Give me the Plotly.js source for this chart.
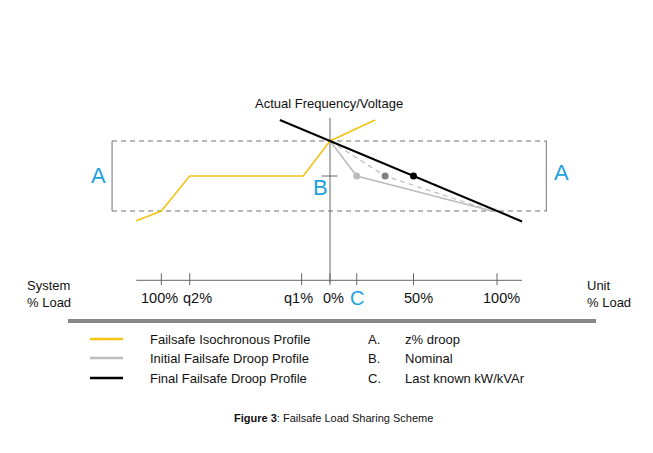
<!DOCTYPE html>
<html>
<head>
<meta charset="utf-8">
<script src="https://cdn.plot.ly/plotly-3.0.1.min.js"></script>
<style>html,body{margin:0;padding:0;background:#fff;}#chart{width:653px;height:453px;}</style>
</head>
<body>
<div id="chart"></div>
<script>
// ---- Data (x: % unit load, y: frequency/voltage offset, % of droop band) ----
const isoX = [-116, -101, -84, -16, 0, 27];
const isoY = [-64, -50, 0, 0, 50, 80];
const finalX = [-30, 115];
const finalY = [80, -65];
const initX = [0, 16, 97];
const initY = [50, 0, -50];
const midX = [0, 33, 97];
const midY = [50, 0, -50];
const dotX = [16, 33, 50];
const dotY = [0, 0, 0];
const bandTop = 50, bandBottom = -50;
const bandLeft = -130.5, bandRight = 129.5;
const axisY = -149;
const axisLeft = -116, axisRight = 115;
const vAxisTop = 83, vAxisBottom = -152;
const tickVals = [-101, -84, -17, 0, 16, 50, 100];
const tickLabels = ['100%', 'q2%', 'q1%', '0%', 'C', '50%', '100%'];
const legendNames = ['Failsafe Isochronous Profile', 'Initial Failsafe Droop Profile', 'Final Failsafe Droop Profile'];
const keyLetters = ['A.', 'B.', 'C.'];
const keyTexts = ['z% droop', 'Nominal', 'Last known kW/kVAr'];

const W = 653, H = 453;
const PXU = 1.67, PYU = 0.7; // pixels per unit
const X0 = 330, Y0 = 176;
const YEL = '#F3C318', LGRAY = '#BDBDBD', DGRAY = '#808080', BLUE = '#1E9FDE', LINEG = '#707070';
const FONT = 'Liberation Sans, Arial, sans-serif';
const px = v => v / W;
const py = v => 1 - v / H;
// label nudges (pixels) so tick labels sit as in the source figure
const labelShift = [-2, 8, -3, 3.5, 0, 5, 4];

const traces = [
  {x: midX, y: midY, mode: 'lines', line: {color: LGRAY, width: 1.2, dash: '5px,4px'}, hoverinfo: 'skip'},
  {x: initX, y: initY, mode: 'lines', line: {color: LGRAY, width: 1.6}, hoverinfo: 'skip'},
  {x: isoX, y: isoY, mode: 'lines', line: {color: YEL, width: 1.6}, hoverinfo: 'skip'},
  {x: finalX, y: finalY, mode: 'lines', line: {color: '#000', width: 2}, hoverinfo: 'skip'},
  {x: dotX, y: dotY, mode: 'markers', marker: {size: 7, color: [LGRAY, DGRAY, '#000']}, hoverinfo: 'skip'}
];

const shapes = [];
[bandTop, bandBottom].forEach(yv => shapes.push({type: 'line', xref: 'x', yref: 'y', x0: bandLeft, x1: bandRight, y0: yv, y1: yv, line: {color: LINEG, width: 1, dash: '5px,4px'}, layer: 'below'}));
[bandLeft, bandRight].forEach(xv => shapes.push({type: 'line', xref: 'x', yref: 'y', x0: xv, x1: xv, y0: bandBottom, y1: bandTop, line: {color: LINEG, width: 1}, layer: 'below'}));
shapes.push({type: 'line', xref: 'x', yref: 'y', x0: 0, x1: 0, y0: vAxisBottom, y1: vAxisTop, line: {color: '#666', width: 1}, layer: 'below'});
shapes.push({type: 'line', xref: 'x', yref: 'y', x0: axisLeft, x1: axisRight, y0: axisY, y1: axisY, line: {color: '#666', width: 1}, layer: 'below'});
tickVals.forEach(t => shapes.push({type: 'line', xref: 'x', yref: 'y', x0: t, x1: t, y0: axisY - 7, y1: axisY + 10, line: {color: '#666', width: 1}, layer: 'below'}));
shapes.push({type: 'line', xref: 'x', yref: 'y', x0: -5, x1: 4.5, y0: 0, y1: 0, line: {color: '#666', width: 1}, layer: 'below'});
shapes.push({type: 'line', xref: 'paper', yref: 'paper', x0: px(68), x1: px(596), y0: py(321), y1: py(321), line: {color: '#878787', width: 4}});
const legColors = [YEL, LGRAY, '#000'];
const legY = [339, 358, 378];
legColors.forEach((c, i) => shapes.push({type: 'line', xref: 'paper', yref: 'paper', x0: px(90), x1: px(123), y0: py(legY[i]), y1: py(legY[i]), line: {color: c, width: 2.5}}));

const ann = [];
const txt = (text, x, y, opts) => Object.assign({text, x, y, xref: 'paper', yref: 'paper', showarrow: false, xanchor: 'center', yanchor: 'middle', font: {family: FONT, size: 13, color: '#111'}}, opts || {});
ann.push(txt('Actual Frequency/Voltage', px(329), py(103)));
ann.push(txt('A', px(98), py(175), {font: {family: FONT, size: 22, color: BLUE}}));
ann.push(txt('A', px(561), py(173), {font: {family: FONT, size: 22, color: BLUE}}));
ann.push(txt('B', px(320), py(187), {font: {family: FONT, size: 22, color: BLUE}}));
tickVals.forEach((t, i) => {
  const isC = tickLabels[i] === 'C';
  ann.push({text: tickLabels[i], x: t, y: axisY, xref: 'x', yref: 'y', showarrow: false, xanchor: 'center', yanchor: 'middle',
    yshift: -18, xshift: labelShift[i],
    font: {family: FONT, size: isC ? 20 : 14.5, color: isC ? BLUE : '#111'}});
});
ann.push(txt('System<br>% Load', px(25), py(294), {xanchor: 'left', align: 'left'}));
ann.push(txt('Unit<br>% Load', px(585), py(294), {xanchor: 'left', align: 'left'}));
legendNames.forEach((n, i) => {
  ann.push(txt(n, px(148), py(legY[i]), {xanchor: 'left'}));
  ann.push(txt(keyLetters[i], px(366), py(legY[i]), {xanchor: 'left'}));
  ann.push(txt(keyTexts[i], px(403), py(legY[i]), {xanchor: 'left'}));
});
ann.push(txt('<b>Figure 3</b>: Failsafe Load Sharing Scheme', px(333), py(418), {font: {family: 'Liberation Sans Narrow, Arial Narrow, ' + FONT, size: 11, color: '#111'}}));

const layout = {
  width: W, height: H,
  margin: {l: 0, r: 0, t: 0, b: 0},
  paper_bgcolor: '#fff', plot_bgcolor: '#fff',
  showlegend: false,
  xaxis: {range: [-X0 / PXU, (W - X0) / PXU], visible: false, fixedrange: true},
  yaxis: {range: [(Y0 - H) / PYU, Y0 / PYU], visible: false, fixedrange: true},
  shapes, annotations: ann
};
Plotly.newPlot('chart', traces, layout, {staticPlot: true, displayModeBar: false});
</script>
</body>
</html>
